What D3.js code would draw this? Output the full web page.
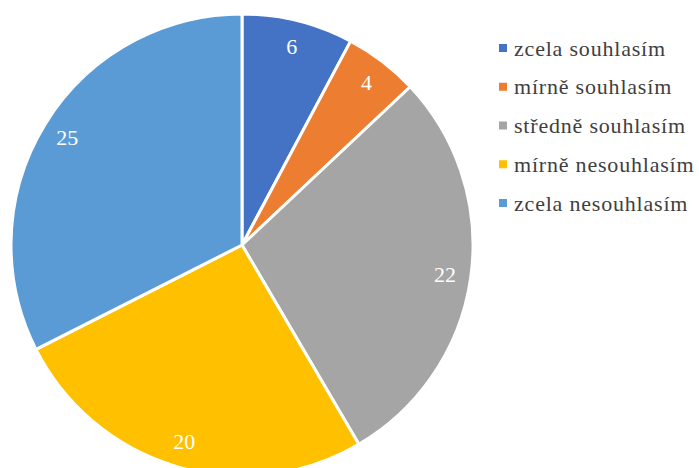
<!DOCTYPE html>
<html>
<head>
<meta charset="utf-8">
<script src="https://cdn.jsdelivr.net/npm/d3@7"></script>
<style>
  body { margin: 0; background: #fff; }
  text { font-family: "Liberation Serif", "Times New Roman", "DejaVu Serif", "Liberation Sans", serif; }
</style>
</head>
<body>
<svg id="chart"></svg>
<script>
// data
const categories = ["zcela souhlasím", "mírně souhlasím", "středně souhlasím", "mírně nesouhlasím", "zcela nesouhlasím"];
const values = [6, 4, 22, 20, 25];
const colors = ["#4472C4", "#ED7D31", "#A5A5A5", "#FFC000", "#5B9BD5"];

var w = 699;
var h = 468;
let center = { x: 242, y: 245 };
var radius = 231;

var svg = d3.select("#chart")
    .attr("width", w)
    .attr("height", h)

const chart = svg.append("g")
    .attr("transform", `translate(${center.x},${center.y})`)

let pie = d3.pie().sort(null).value(d => d)
let arcs = pie(values)

let arc = d3.arc().innerRadius(0).outerRadius(radius)
let labelArc = d3.arc().innerRadius(205).outerRadius(205)

chart.selectAll("path")
    .data(arcs)
    .join("path")
    .attr("d", arc)
    .attr("fill", (d, i) => colors[i])
    .attr("stroke", "#fff")
    .attr("stroke-width", 3)
    .attr("stroke-linejoin", "round")

chart.selectAll("text")
    .data(arcs)
    .join("text")
    .attr("transform", d => `translate(${labelArc.centroid(d)})`)
    .attr("text-anchor", "middle")
    .attr("dy", "0.35em")
    .style("font-size", "22px")
    .attr("fill", "#fff")
    .text(d => d.data)

// legend
const legend = svg.append("g")
    .attr("transform", "translate(499,48)")

let legendY = d3.scalePoint().domain(categories).range([0, 155])

const item = legend.selectAll("g")
    .data(categories)
    .join("g")
    .attr("transform", d => `translate(0,${legendY(d)})`)

item.append("rect")
    .attr("x", 0)
    .attr("y", -4)
    .attr("width", 8)
    .attr("height", 8)
    .attr("fill", (d, i) => colors[i])

item.append("text")
    .attr("x", 15)
    .attr("dy", "0.35em")
    .style("font-size", "22px")
    .style("letter-spacing", "0.8px")
    .attr("fill", "#404040")
    .text(d => d)
</script>
</body>
</html>
